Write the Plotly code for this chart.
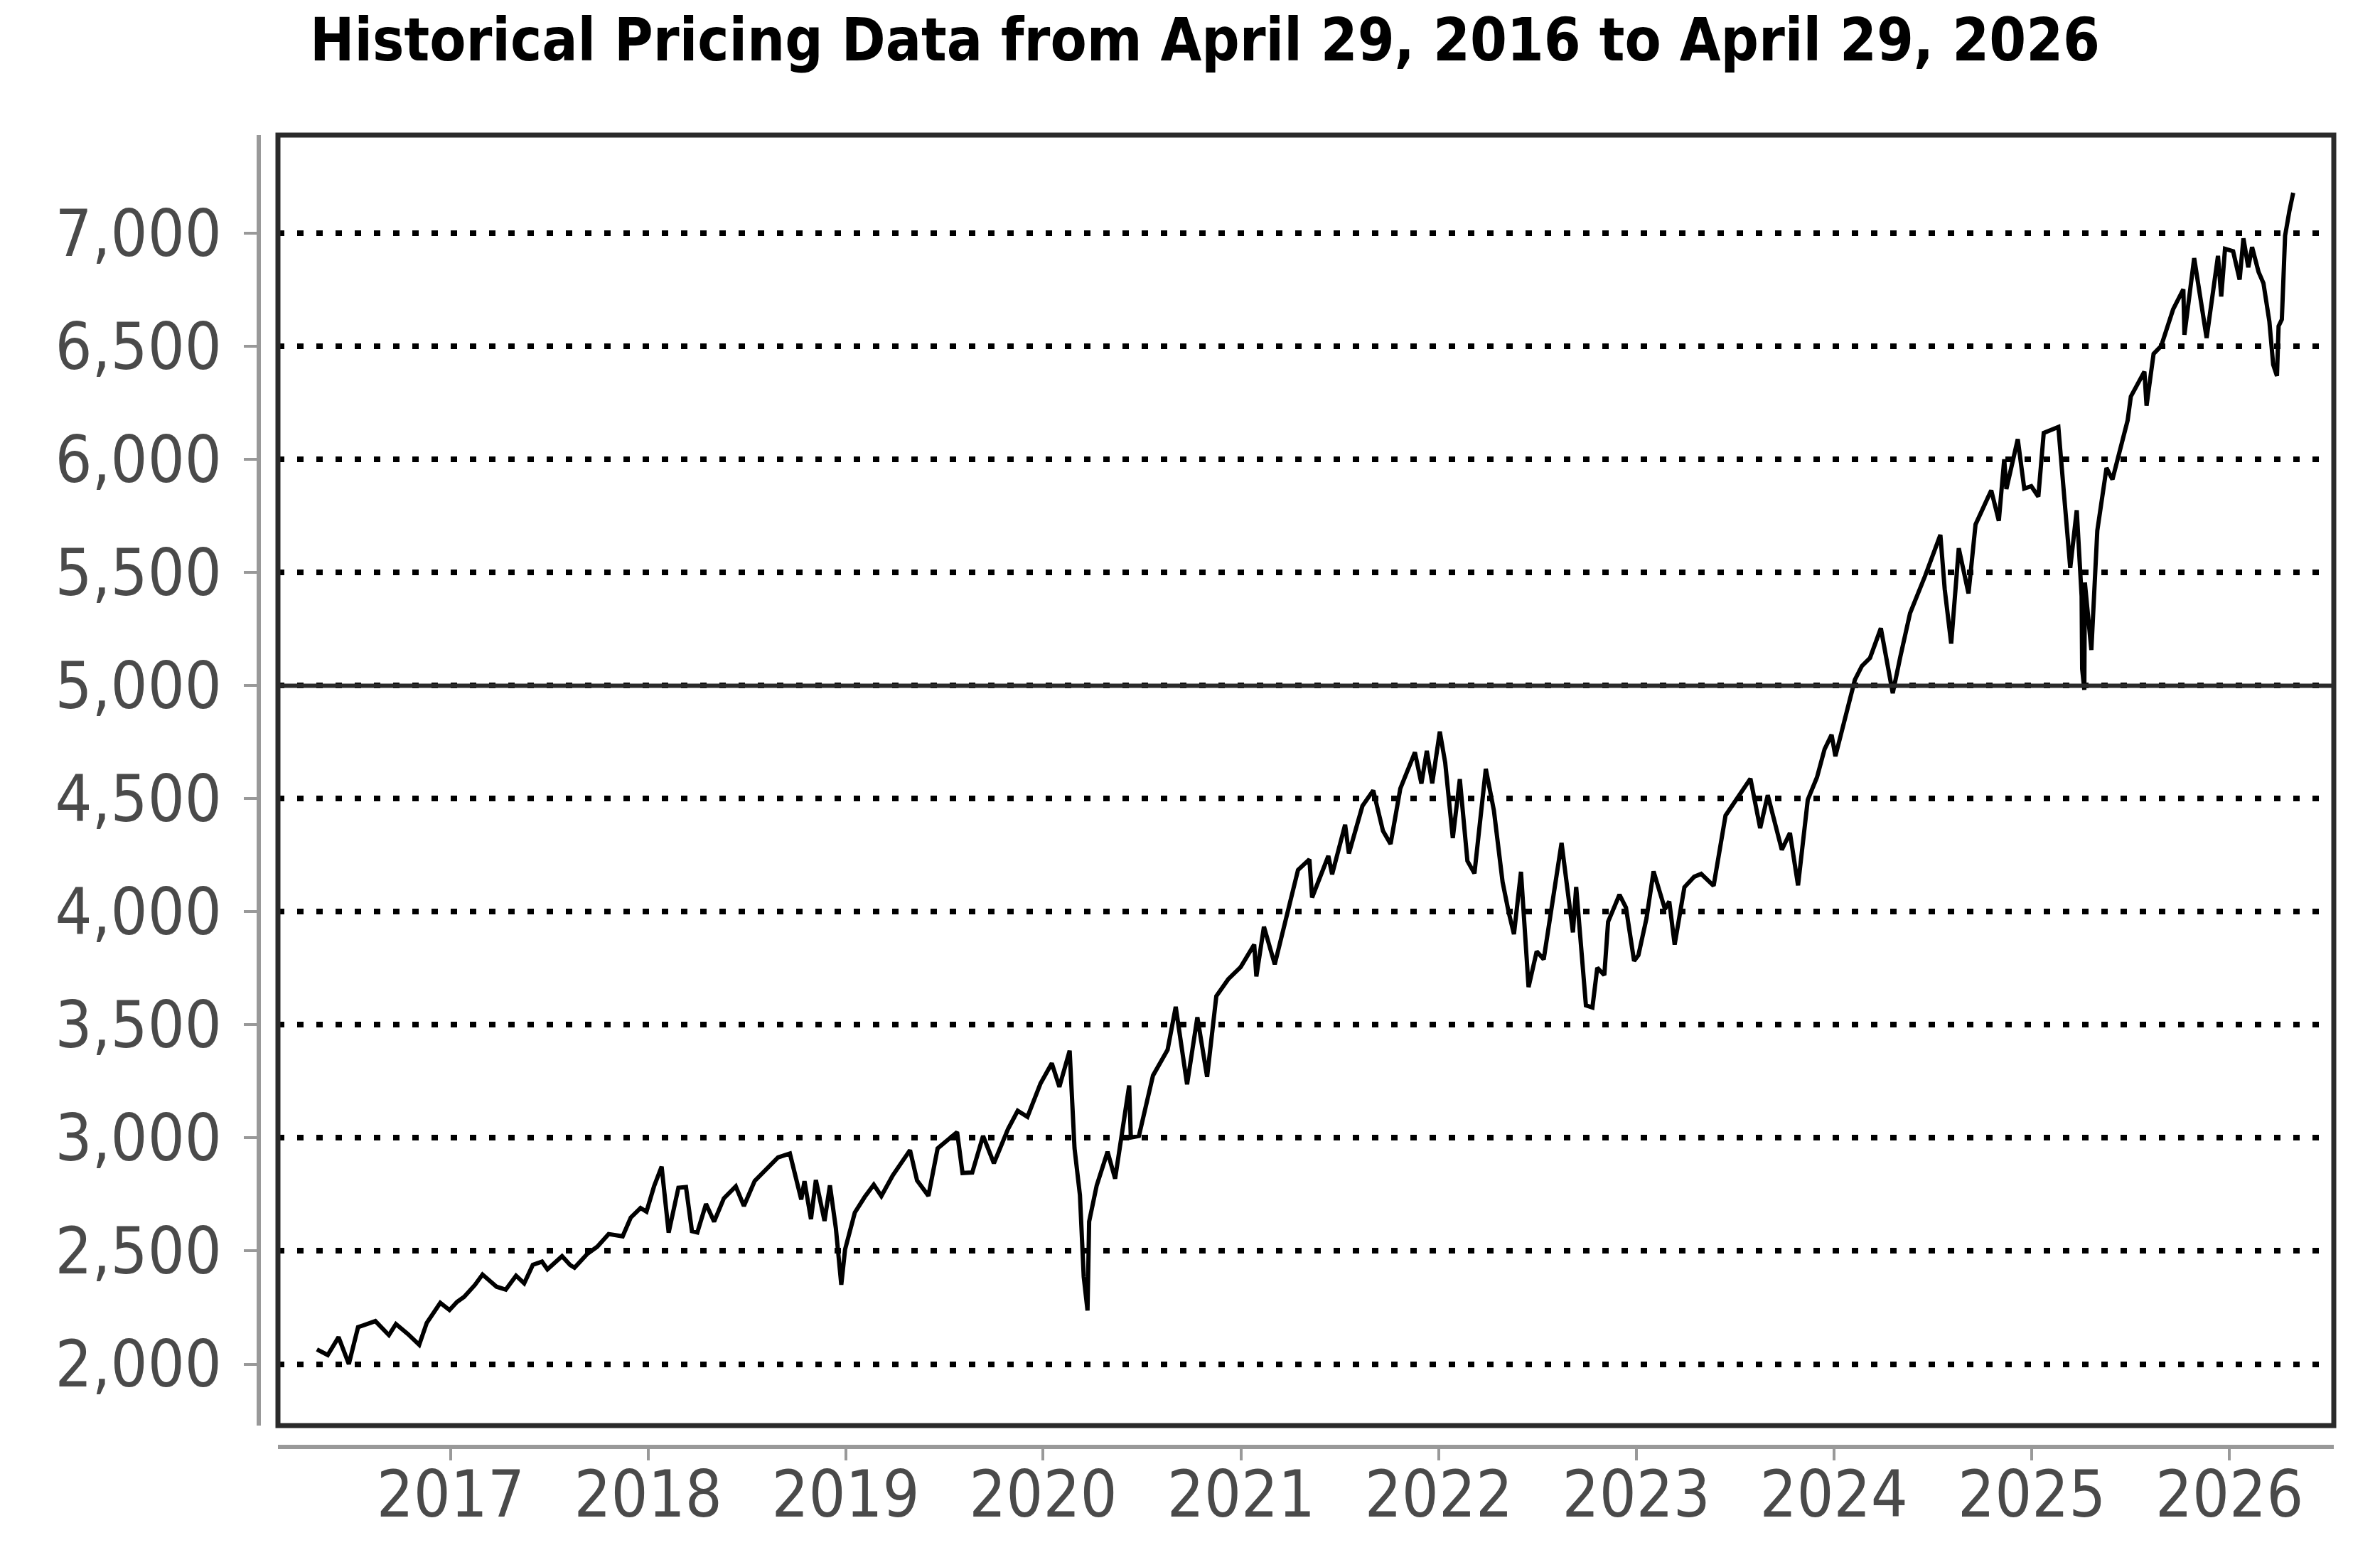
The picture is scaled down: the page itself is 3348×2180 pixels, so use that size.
import plotly.graph_objects as go

# closing levels (roughly twice a month, plus the visible extremes)
dates = [
    "2016-04-29", "2016-05-19", "2016-06-08", "2016-06-27", "2016-07-14", "2016-08-15",
    "2016-09-09", "2016-09-22", "2016-10-14", "2016-11-04", "2016-11-18", "2016-12-13", "2016-12-30",
    "2017-01-13", "2017-01-26", "2017-02-15", "2017-03-01", "2017-03-27", "2017-04-13",
    "2017-05-02", "2017-05-17", "2017-06-02", "2017-06-19", "2017-06-29", "2017-07-26",
    "2017-08-10", "2017-08-18", "2017-09-11", "2017-09-29", "2017-10-20", "2017-11-15",
    "2017-11-30", "2017-12-18", "2017-12-29",
    "2018-01-12", "2018-01-26", "2018-02-08", "2018-02-26", "2018-03-12", "2018-03-23",
    "2018-04-02", "2018-04-18", "2018-05-03", "2018-05-21", "2018-06-12", "2018-06-27",
    "2018-07-17", "2018-08-07", "2018-08-29", "2018-09-20", "2018-10-11", "2018-10-17",
    "2018-10-29", "2018-11-07", "2018-11-23", "2018-12-03", "2018-12-14", "2018-12-24", "2018-12-31",
    "2019-01-18", "2019-02-05", "2019-02-22", "2019-03-08", "2019-03-29", "2019-04-30",
    "2019-05-13", "2019-06-03", "2019-06-20", "2019-07-26", "2019-08-05", "2019-08-23",
    "2019-09-12", "2019-10-02", "2019-10-28", "2019-11-15", "2019-12-03", "2019-12-27",
    "2020-01-17", "2020-01-31", "2020-02-19", "2020-02-28", "2020-03-09", "2020-03-16",
    "2020-03-23", "2020-03-26", "2020-04-09", "2020-04-29", "2020-05-13", "2020-06-08",
    "2020-06-11", "2020-06-26", "2020-07-22", "2020-08-18", "2020-09-02", "2020-09-23",
    "2020-10-12", "2020-10-30", "2020-11-16", "2020-12-08", "2020-12-31",
    "2021-01-25", "2021-01-29", "2021-02-12", "2021-03-04", "2021-03-26", "2021-04-16",
    "2021-05-07", "2021-05-12", "2021-06-11", "2021-06-18", "2021-07-12", "2021-07-19",
    "2021-08-13", "2021-09-02", "2021-09-20", "2021-10-04", "2021-10-22", "2021-11-18",
    "2021-11-30", "2021-12-10", "2021-12-20",
    "2022-01-03", "2022-01-13", "2022-01-27", "2022-02-09", "2022-02-23", "2022-03-08",
    "2022-03-29", "2022-04-13", "2022-04-29", "2022-05-10", "2022-05-20", "2022-06-02",
    "2022-06-16", "2022-07-01", "2022-07-14", "2022-08-16", "2022-09-06", "2022-09-12",
    "2022-09-30", "2022-10-12", "2022-10-21", "2022-11-03", "2022-11-10", "2022-12-01",
    "2022-12-13", "2022-12-28",
    "2023-01-05", "2023-01-20", "2023-02-02", "2023-02-23", "2023-03-03", "2023-03-13",
    "2023-03-31", "2023-04-18", "2023-05-01", "2023-05-24", "2023-06-15", "2023-07-31",
    "2023-08-18", "2023-09-01", "2023-09-27", "2023-10-12", "2023-10-27", "2023-11-14",
    "2023-12-01", "2023-12-15", "2023-12-28",
    "2024-01-04", "2024-01-24", "2024-02-09", "2024-02-22", "2024-03-08", "2024-03-28",
    "2024-04-19", "2024-05-03", "2024-05-21", "2024-06-18", "2024-07-16", "2024-07-24",
    "2024-08-05", "2024-08-19", "2024-09-06", "2024-09-19", "2024-10-18", "2024-11-01",
    "2024-11-11", "2024-11-15", "2024-12-06", "2024-12-18", "2024-12-31",
    "2025-01-13", "2025-01-23", "2025-02-19", "2025-03-10", "2025-03-13", "2025-03-25",
    "2025-04-03", "2025-04-04", "2025-04-08", "2025-04-09", "2025-04-21", "2025-05-02",
    "2025-05-12", "2025-05-19", "2025-05-30", "2025-06-11", "2025-06-27", "2025-07-03",
    "2025-07-28", "2025-08-01", "2025-08-14", "2025-08-28", "2025-09-19", "2025-10-08",
    "2025-10-10", "2025-10-28", "2025-11-20", "2025-12-11", "2025-12-17", "2025-12-24",
    "2026-01-08", "2026-01-20", "2026-01-27", "2026-02-05", "2026-02-12", "2026-02-24",
    "2026-03-05", "2026-03-16", "2026-03-23", "2026-03-30", "2026-04-02", "2026-04-08",
    "2026-04-14", "2026-04-22", "2026-04-29",
]
closes = [
    2065, 2040, 2119, 2000, 2163, 2190,
    2128, 2177, 2133, 2085, 2182, 2271, 2239,
    2275, 2297, 2350, 2396, 2342, 2329,
    2391, 2357, 2439, 2453, 2419, 2477,
    2438, 2426, 2488, 2519, 2575, 2565,
    2648, 2690, 2674,
    2786, 2873, 2581, 2780, 2783, 2588,
    2582, 2708, 2630, 2733, 2786, 2699,
    2810, 2858, 2914, 2931, 2728, 2809,
    2641, 2814, 2633, 2790, 2600, 2351, 2507,
    2670, 2738, 2793, 2743, 2834, 2946,
    2812, 2744, 2954, 3026, 2845, 2847,
    3009, 2888, 3039, 3120, 3093, 3240,
    3330, 3226, 3386, 2954, 2747, 2386,
    2237, 2630, 2790, 2939, 2820, 3232,
    3002, 3009, 3276, 3390, 3580, 3237,
    3534, 3270, 3627, 3702, 3756,
    3855, 3714, 3934, 3768, 3975, 4185,
    4232, 4063, 4247, 4166, 4385, 4258,
    4468, 4537, 4358, 4300, 4545, 4705,
    4567, 4712, 4568,
    4797, 4659, 4326, 4587, 4225, 4170,
    4632, 4447, 4132, 4001, 3901, 4177,
    3667, 3825, 3790, 4305, 3909, 4110,
    3586, 3577, 3753, 3720, 3956, 4076,
    4019, 3783,
    3808, 3972, 4179, 4012, 4046, 3855,
    4109, 4155, 4168, 4115, 4426, 4589,
    4370, 4516, 4274, 4349, 4117, 4496,
    4595, 4719, 4783,
    4688, 4868, 5026, 5087, 5123, 5254,
    4967, 5128, 5321, 5487, 5667, 5427,
    5186, 5608, 5408, 5713, 5864, 5729,
    6001, 5870, 6090, 5872, 5882,
    5836, 6118, 6144, 5614, 5521, 5776,
    5396, 5074, 4982, 5456, 5158, 5686,
    5844, 5963, 5912, 6022, 6173, 6279,
    6389, 6238, 6468, 6502, 6664, 6753,
    6552, 6891, 6538, 6901, 6721, 6932,
    6921, 6796, 6978, 6850, 6940, 6830,
    6780, 6610, 6420, 6370, 6590, 6620,
    6990, 7100, 7180,
]

y_ticks = [2000, 2500, 3000, 3500, 4000, 4500, 5000, 5500, 6000, 6500, 7000]
reference_level = 5000
title_text = "Historical Pricing Data from April 29, 2016 to April 29, 2026"

fig = go.Figure(
    go.Scatter(
        x=dates,
        y=closes,
        mode="lines",
        line=dict(color="black", width=6),
        hoverinfo="skip",
    )
)

tick_font = dict(family="DejaVu Sans Condensed, DejaVu Sans", size=91, color="#4a4a4a")

fig.update_layout(
    width=3348,
    height=2180,
    paper_bgcolor="white",
    plot_bgcolor="white",
    showlegend=False,
    margin=dict(l=350, r=73, t=182, b=150),
    title=dict(
        text="<b>" + title_text + "</b>",
        font=dict(family="DejaVu Sans Condensed, DejaVu Sans", size=83, color="black"),
        xref="container",
        yref="container",
        x=1687 / 3348,
        xanchor="center",
        y=1 - 48 / 2180,
        yanchor="middle",
    ),
    xaxis=dict(
        domain=[33 / 2925, 1],
        anchor="free",
        position=3 / 1848,
        range=["2016-02-17", "2026-07-13"],
        type="date",
        dtick="M12",
        tick0="2017-01-01",
        tickformat="%Y",
        ticks="outside",
        ticklen=16,
        tickwidth=4,
        tickcolor="#999999",
        ticklabelstandoff=-30,
        showline=True,
        linecolor="#999999",
        linewidth=6,
        showgrid=False,
        zeroline=False,
        tickfont=tick_font,
    ),
    yaxis=dict(
        domain=[33 / 1848, 1],
        anchor="free",
        position=6 / 2925,
        range=[1728, 7435],
        tickvals=y_ticks,
        tickformat=",",
        ticks="outside",
        ticklen=18,
        tickwidth=4,
        tickcolor="#999999",
        ticklabelstandoff=13,
        showline=True,
        linecolor="#999999",
        linewidth=6,
        showgrid=True,
        gridcolor="black",
        gridwidth=8,
        griddash="9px,18px",
        zeroline=False,
        tickfont=tick_font,
    ),
)

# plot frame and the solid reference line
fig.add_shape(
    type="rect", xref="x domain", yref="y domain", x0=0, x1=1, y0=0, y1=1,
    line=dict(color="#2a2a2a", width=7), layer="above",
)
fig.add_shape(
    type="line", xref="x domain", yref="y", x0=0, x1=1,
    y0=reference_level, y1=reference_level,
    line=dict(color="#2a2a2a", width=6), layer="above",
)

fig.write_html("out.html", config={"displayModeBar": False})
